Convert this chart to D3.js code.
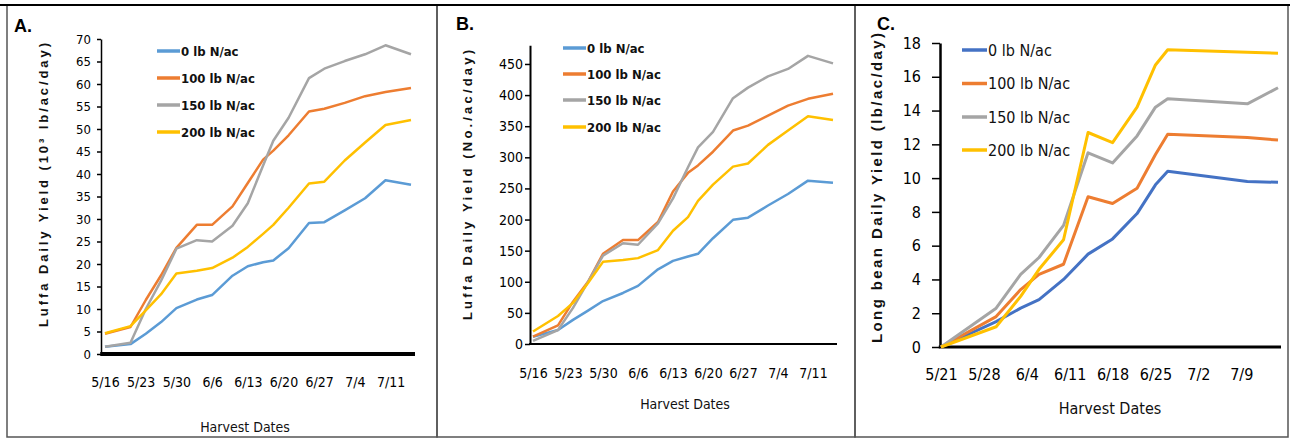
<!DOCTYPE html>
<html>
<head>
<meta charset="utf-8">
<script src="https://cdn.jsdelivr.net/npm/d3@7"></script>
<style>
  body { margin: 0; background: #fff; }
  svg { display: block; }
</style>
</head>
<body>
<svg></svg>
<script>
const width = 1294;
const height = 440;

const seriesNames = ["0 lb N/ac", "100 lb N/ac", "150 lb N/ac", "200 lb N/ac"];

// luffa harvest dates (panels A and B)
const luffaDates = ["5/16","5/21","5/24","5/27","5/30","6/3","6/6","6/10","6/13","6/16",
                    "6/18","6/21","6/25","6/28","7/2","7/6","7/10","7/15"];
const luffaTicks = ["5/16","5/23","5/30","6/6","6/13","6/20","6/27","7/4","7/11"];

// A. luffa yield, 10^3 lb/ac/day
const luffaLb0   = [1.6, 2.2, 4.5, 7.1, 10.2, 12.1, 13.1, 17.4, 19.5, 20.4, 20.8, 23.5, 29.1, 29.3, 31.9, 34.6, 38.6, 37.6];
const luffaLb100 = [4.5, 6.0, 12.0, 17.5, 23.6, 28.7, 28.7, 32.8, 38.0, 43.2, 45.2, 48.6, 53.9, 54.5, 55.8, 57.3, 58.2, 59.1];
const luffaLb150 = [1.6, 2.5, 10.0, 16.3, 23.4, 25.3, 25.0, 28.5, 33.5, 41.9, 47.4, 52.5, 61.3, 63.4, 65.1, 66.6, 68.6, 66.6];
const luffaLb200 = [4.6, 6.2, 9.7, 13.3, 17.9, 18.5, 19.1, 21.4, 23.8, 26.7, 28.7, 32.5, 37.9, 38.3, 43.0, 47.0, 50.9, 52.0];
const luffaLbTicks = [0,5,10,15,20,25,30,35,40,45,50,55,60,65,70];

// B. luffa yield, No./ac/day
const luffaNo0   = [11.7, 22.5, 38.8, 53.7, 69, 82, 93.4, 120, 133.5, 140.5, 144.9, 170, 199.5, 203, 222.5, 241, 262.5, 259];
const luffaNo100 = [12, 30, 68, 100, 145, 167, 167, 196, 245, 275, 287, 309, 343, 351, 367, 383, 394, 402];
const luffaNo150 = [5, 22.5, 58, 100, 142, 162, 159.5, 194, 234, 284, 316, 341, 395, 412, 430, 442, 463, 451];
const luffaNo200 = [20, 45, 66, 98, 132, 135, 138, 151, 182, 204, 230, 256, 285, 290, 320, 343, 366, 360];
const luffaNoTicks = [0,50,100,150,200,250,300,350,400,450];

// C. long bean yield, lb/ac/day
const beanDates = ["5/21","5/30","6/3","6/6","6/10","6/14","6/18","6/22","6/25","6/27","7/10","7/15"];
const beanTicks = ["5/21","5/28","6/4","6/11","6/18","6/25","7/2","7/9"];
const bean0   = [0, 1.5, 2.3, 2.8, 4.0, 5.5, 6.4, 7.9, 9.6, 10.4, 9.8, 9.75];
const bean100 = [0, 1.8, 3.4, 4.3, 4.9, 8.9, 8.5, 9.4, 11.4, 12.6, 12.4, 12.25];
const bean150 = [0, 2.3, 4.3, 5.3, 7.2, 11.5, 10.9, 12.5, 14.2, 14.7, 14.4, 15.35];
const bean200 = [0, 1.2, 3.0, 4.6, 6.35, 12.7, 12.1, 14.2, 16.7, 17.6, 17.45, 17.4];
const beanYTicks = [0,2,4,6,8,10,12,14,16,18];

const parseDay = s => d3.timeParse("%m/%d/%Y")(s + "/2019");
const fmtDay = d3.timeFormat("%-m/%-d");

const narrow = "'Liberation Sans Narrow', 'DejaVu Sans Condensed', 'Arial Narrow', sans-serif";

const svg = d3.select("svg")
  .attr("width", width)
  .attr("height", height)
  .style("font-family", narrow);

svg.append("rect").attr("width", width).attr("height", height).attr("fill", "#fff");

// panel frames
[[7, 437], [437, 855], [855, 1288]].forEach(([a, b]) => {
  svg.append("rect")
    .attr("x", a).attr("y", 5)
    .attr("width", b - a).attr("height", 432)
    .attr("fill", "none").attr("stroke", "#555").attr("stroke-width", 1.5);
});
svg.append("line").attr("x1", 0).attr("x2", 1290).attr("y1", 5).attr("y2", 5)
  .attr("stroke", "#000").attr("stroke-width", 2);

const panels = [
  {
    letter: "A.", letterX: 14, letterY: 32,
    dates: luffaDates, ticks: luffaTicks,
    series: [luffaLb0, luffaLb100, luffaLb150, luffaLb200],
    colors: ["#5B9BD5", "#ED7D31", "#A5A5A5", "#FFC000"],
    yTicks: luffaLbTicks, ymax: 70,
    axisX: 101, x0: 105, x1: 411, axisEnd: 415, yBottom: 354, yTop: 39,
    xAxisW: 4, yAxisW: 1.5, tickLen: 4, yPad: 6, xPad: 23,
    tickFont: 14, yTickFont: 13, lineW: 2.5,
    yTitle: "Luffa  Daily Yield (10³ lb/ac/day)", yTitleX: 43, yTitleY: 185, yTitleLen: 284, yTitleFont: 13,
    xTitleX: 245, xTitleY: 432, xTitleFont: 14,
    legX: 157, legLen: 23, legY: [51, 78, 105, 132], legFont: 13, legWeight: "bold"
  },
  {
    letter: "B.", letterX: 456, letterY: 30,
    dates: luffaDates, ticks: luffaTicks,
    series: [luffaNo0, luffaNo100, luffaNo150, luffaNo200],
    colors: ["#5B9BD5", "#ED7D31", "#A5A5A5", "#FFC000"],
    yTicks: luffaNoTicks, ymax: 480,
    axisX: 530, x0: 533, x1: 833, axisEnd: 837, yBottom: 344, yTop: 45.3,
    xAxisW: 2, yAxisW: 2, tickLen: 5, yPad: 2, xPad: 24,
    tickFont: 14, yTickFont: 14, lineW: 2.5,
    yTitle: "Luffa  Daily Yield (No./ac/day)", yTitleX: 467, yTitleY: 185, yTitleLen: 270, yTitleFont: 13,
    xTitleX: 685, xTitleY: 409, xTitleFont: 14,
    legX: 563, legLen: 23, legY: [48, 74, 100, 127], legFont: 13, legWeight: "bold"
  },
  {
    letter: "C.", letterX: 877, letterY: 30,
    dates: beanDates, ticks: beanTicks,
    series: [bean0, bean100, bean150, bean200],
    colors: ["#4472C4", "#ED7D31", "#A5A5A5", "#FFC000"],
    yTicks: beanYTicks, ymax: 18,
    axisX: 940, x0: 941, x1: 1278, axisEnd: 1281, yBottom: 347, yTop: 43,
    xAxisW: 3, yAxisW: 2.5, tickLen: 8, yPad: 11, xPad: 22,
    tickFont: 16, yTickFont: 16, lineW: 3,
    yTitle: "Long bean Daily Yield (lb/ac/day)", yTitleX: 877, yTitleY: 188, yTitleLen: 310, yTitleFont: 15,
    xTitleX: 1110, xTitleY: 414, xTitleFont: 16,
    legX: 962, legLen: 25, legY: [50, 83.5, 117, 150], legFont: 16, legWeight: "normal"
  }
];

panels.forEach(p => {
  const g = svg.append("g");

  const x = d3.scaleTime()
    .domain([parseDay(p.dates[0]), parseDay(p.dates[p.dates.length - 1])])
    .range([p.x0, p.x1]);
  const y = d3.scaleLinear()
    .domain([0, p.ymax])
    .range([p.yBottom, p.yTop]);

  // y axis
  const ya = g.append("g")
    .attr("transform", `translate(${p.axisX},0)`)
    .call(d3.axisLeft(y).tickValues(p.yTicks).tickSize(p.tickLen).tickSizeOuter(0).tickPadding(p.yPad));
  ya.select(".domain").attr("stroke-width", p.yAxisW);
  ya.selectAll(".tick line").attr("stroke-width", 1.5);
  ya.selectAll("text").attr("font-size", p.yTickFont)
    .attr("font-family", narrow).attr("fill", "#000");

  // x axis labels
  const xa = g.append("g")
    .attr("transform", `translate(0,${p.yBottom})`)
    .call(d3.axisBottom(x).tickValues(p.ticks.map(parseDay)).tickFormat(fmtDay).tickSize(0).tickPadding(p.xPad));
  xa.select(".domain").remove();
  xa.selectAll("text").attr("font-size", p.tickFont)
    .attr("font-family", narrow).attr("fill", "#000");

  g.append("line")
    .attr("x1", p.axisX - p.yAxisW / 2).attr("x2", p.axisEnd)
    .attr("y1", p.yBottom).attr("y2", p.yBottom)
    .attr("stroke", "#000").attr("stroke-width", p.xAxisW);

  // series lines
  const line = d3.line()
    .x((d, i) => x(parseDay(p.dates[i])))
    .y(d => y(d));
  p.series.forEach((vals, i) => {
    g.append("path")
      .datum(vals)
      .attr("d", line)
      .attr("fill", "none")
      .attr("stroke", p.colors[i])
      .attr("stroke-width", p.lineW)
      .attr("stroke-linejoin", "round");
  });

  // legend
  seriesNames.forEach((name, i) => {
    g.append("line")
      .attr("x1", p.legX).attr("x2", p.legX + p.legLen)
      .attr("y1", p.legY[i]).attr("y2", p.legY[i])
      .attr("stroke", p.colors[i]).attr("stroke-width", 3.5);
    g.append("text")
      .attr("x", p.legX + p.legLen + 1).attr("y", p.legY[i])
      .attr("dy", "0.35em")
      .attr("font-size", p.legFont)
      .attr("font-weight", p.legWeight)
      .attr("fill", "#111")
      .text(name);
  });

  // titles
  g.append("text")
    .attr("x", p.letterX).attr("y", p.letterY)
    .attr("font-size", 18).attr("font-weight", "bold")
    .attr("font-family", "'Liberation Sans', Arial, sans-serif")
    .text(p.letter);

  g.append("text")
    .attr("transform", `translate(${p.yTitleX},${p.yTitleY}) rotate(-90)`)
    .attr("text-anchor", "middle")
    .attr("dy", "0.35em")
    .attr("font-size", p.yTitleFont).attr("font-weight", "bold")
    .attr("font-family", "'Liberation Sans', Arial, sans-serif")
    .attr("textLength", p.yTitleLen).attr("lengthAdjust", "spacing")
    .attr("fill", "#111")
    .text(p.yTitle);

  g.append("text")
    .attr("x", p.xTitleX).attr("y", p.xTitleY)
    .attr("text-anchor", "middle")
    .attr("font-size", p.xTitleFont)
    .attr("fill", "#111")
    .text("Harvest Dates");
});
</script>
</body>
</html>
